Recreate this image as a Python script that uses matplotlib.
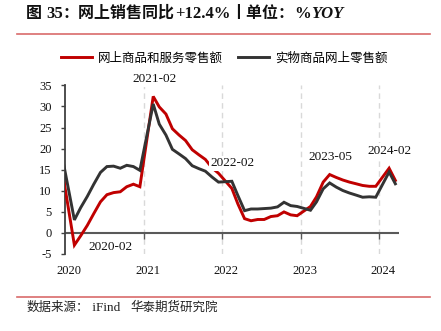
import matplotlib
matplotlib.use("Agg")
import matplotlib.pyplot as plt
import matplotlib.transforms as mtransforms
import pandas as pd

# ---- data: cumulative YoY growth (%), Jan and Feb are reported together ----
months = [
    "2019-12",
    "2020-02", "2020-03", "2020-04", "2020-05", "2020-06", "2020-07",
    "2020-08", "2020-09", "2020-10", "2020-11", "2020-12",
    "2021-02", "2021-03", "2021-04", "2021-05", "2021-06", "2021-07",
    "2021-08", "2021-09", "2021-10", "2021-11", "2021-12",
    "2022-02", "2022-03", "2022-04", "2022-05", "2022-06", "2022-07",
    "2022-08", "2022-09", "2022-10", "2022-11", "2022-12",
    "2023-02", "2023-03", "2023-04", "2023-05", "2023-06", "2023-07",
    "2023-08", "2023-09", "2023-10", "2023-11", "2023-12",
    "2024-02", "2024-03",
]
online_total = [
    16.5,
    -3.0, -0.8, 1.7, 4.5, 7.3, 9.0, 9.5, 9.7, 10.9, 11.5, 10.9,
    32.4, 29.9, 28.2, 24.7, 23.2, 21.9, 19.7, 18.5, 17.4, 15.4, 14.1,
    10.5, 6.8, 3.3, 2.8, 3.1, 3.1, 3.8, 4.0, 4.9, 4.2, 4.0,
    6.2, 8.5, 12.0, 13.8, 13.1, 12.5, 12.0, 11.6, 11.2, 11.0, 11.0,
    15.3, 12.4,
]
physical_goods = [
    19.5,
    3.0, 5.9, 8.6, 11.5, 14.3, 15.7, 15.8, 15.3, 16.0, 15.7, 14.8,
    30.6, 25.8, 23.2, 19.8, 18.7, 17.6, 15.9, 15.2, 14.6, 13.2, 12.0,
    12.2, 8.8, 5.2, 5.6, 5.6, 5.7, 5.8, 6.1, 7.2, 6.4, 6.2,
    5.3, 7.3, 10.4, 11.8, 10.8, 10.0, 9.4, 8.9, 8.4, 8.5, 8.4,
    14.4, 11.6,
]
series_names = ["网上商品和服务零售额", "实物商品网上零售额"]
callouts = ["2020-02", "2021-02", "2022-02", "2023-05", "2024-02"]
year_ticks = ["2020", "2021", "2022", "2023", "2024"]
y_ticks = [-5, 0, 5, 10, 15, 20, 25, 30, 35]

RED = "#C00000"
DARK = "#333333"
CJK = ["Noto Sans CJK SC", "DejaVu Sans"]
SERIF = ["Liberation Serif", "DejaVu Serif"]

plt.rcParams["axes.unicode_minus"] = False

fig = plt.figure(figsize=(4.41, 3.31), dpi=100)
ax = fig.add_axes([0.1467, 0.2341, 0.7581, 0.5076])

# monthly points sit in the middle of their month
dates = pd.to_datetime(months) + pd.Timedelta(days=14)
l1, = ax.plot(dates, online_total, color=RED, lw=2.1, zorder=3,
              solid_joinstyle="miter", label=series_names[0])
l2, = ax.plot(dates, physical_goods, color=DARK, lw=2.1, zorder=3,
              solid_joinstyle="miter", label=series_names[1])

year_pos = pd.to_datetime(year_ticks)
ax.set_xlim(pd.Timestamp("2020-01-01"), pd.Timestamp("2024-04-01"))
ax.set_ylim(-5, 35)

# dashed year separators
for d in year_pos[1:]:
    ax.axvline(d, color="#D9D9D9", lw=1.0, ls=(0, (4, 3)), zorder=1)

# zero line with small downward ticks at the year boundaries
ax.axhline(0, color="#595959", lw=1.5, zorder=2)
ax.plot(year_pos[1:], [0] * (len(year_pos) - 1), ls="none", marker=3,
        ms=4, mew=1.0, color="#595959", zorder=2)

for s in ("top", "right", "bottom"):
    ax.spines[s].set_visible(False)
ax.spines["left"].set_color("#404040")
ax.spines["left"].set_linewidth(1.3)

ax.set_yticks(y_ticks)
ax.tick_params(axis="y", direction="out", length=3, width=1.0,
               color="#404040", pad=6.5, labelsize=9)
ax.set_xticks(year_pos)
ax.set_xticklabels(year_ticks)
ax.tick_params(axis="x", length=0, pad=8, labelsize=9)
shift = mtransforms.ScaledTranslation(4 / 100, 0, fig.dpi_scale_trans)
for lab in ax.get_xticklabels() + ax.get_yticklabels():
    lab.set_fontfamily(SERIF)
    lab.set_color("#111111")
for lab in ax.get_xticklabels():
    lab.set_transform(lab.get_transform() + shift)

# callout labels: (days after the point, label height in %)
label_place = {
    "2020-02": (167, -3.4),
    "2021-02": (5, 36.5),
    "2022-02": (1, 16.5),
    "2023-05": (4, 18.0),
    "2024-02": (4, 19.5),
}
for m in callouts:
    i = months.index(m)
    ddays, y = label_place[m]
    ax.text(dates[i] + pd.Timedelta(days=ddays), y, m,
            ha="center", va="center", fontsize=9.5, family=SERIF,
            color="#111111", zorder=5, clip_on=False,
            bbox=dict(boxstyle="square,pad=0.1", fc="white", ec="none"))

ax.legend(handles=[l1, l2], loc="center", bbox_to_anchor=(0.508, 0.824),
          bbox_transform=fig.transFigure, ncol=2, frameon=False,
          handlelength=2.5, handletextpad=0.45, columnspacing=1.2,
          prop={"family": CJK, "size": 9})


def text_runs(x, y, runs, color):
    """Draw consecutive text pieces with individual font settings."""
    renderer = fig.canvas.get_renderer()
    for s, props in runs:
        t = fig.text(x, y, s, va="baseline", ha="left", color=color, **props)
        bb = t.get_window_extent(renderer=renderer)
        x += bb.width / fig.bbox.width


bold_cjk = {"family": CJK, "fontsize": 11.5, "fontweight": "bold"}
bold_serif = {"family": SERIF, "fontsize": 12, "fontweight": "bold"}
text_runs(0.06, 0.946, [
    ("图 ", bold_cjk), ("35", bold_serif), ("：网上销售同比", bold_cjk),
    ("+12.4%", bold_serif), ("丨单位：", bold_cjk), ("%", bold_serif),
    ("YOY", dict(bold_serif, fontstyle="italic")),
], "#111111")

reg_cjk = {"family": CJK, "fontsize": 9}
reg_serif = {"family": SERIF, "fontsize": 9.5}
text_runs(0.06, 0.06, [
    ("数据来源：", reg_cjk), (" iFind   ", reg_serif), ("华泰期货研究院", reg_cjk),
], "#222222")

# thin red rules framing the chart
for yy in (1 - 34 / 331, 1 - 296.5 / 331):
    fig.add_artist(plt.Line2D([16.7 / 441, 430 / 441], [yy, yy],
                              transform=fig.transFigure, color="#D96B6B", lw=1.2))

fig.savefig("out.png", dpi=100)
